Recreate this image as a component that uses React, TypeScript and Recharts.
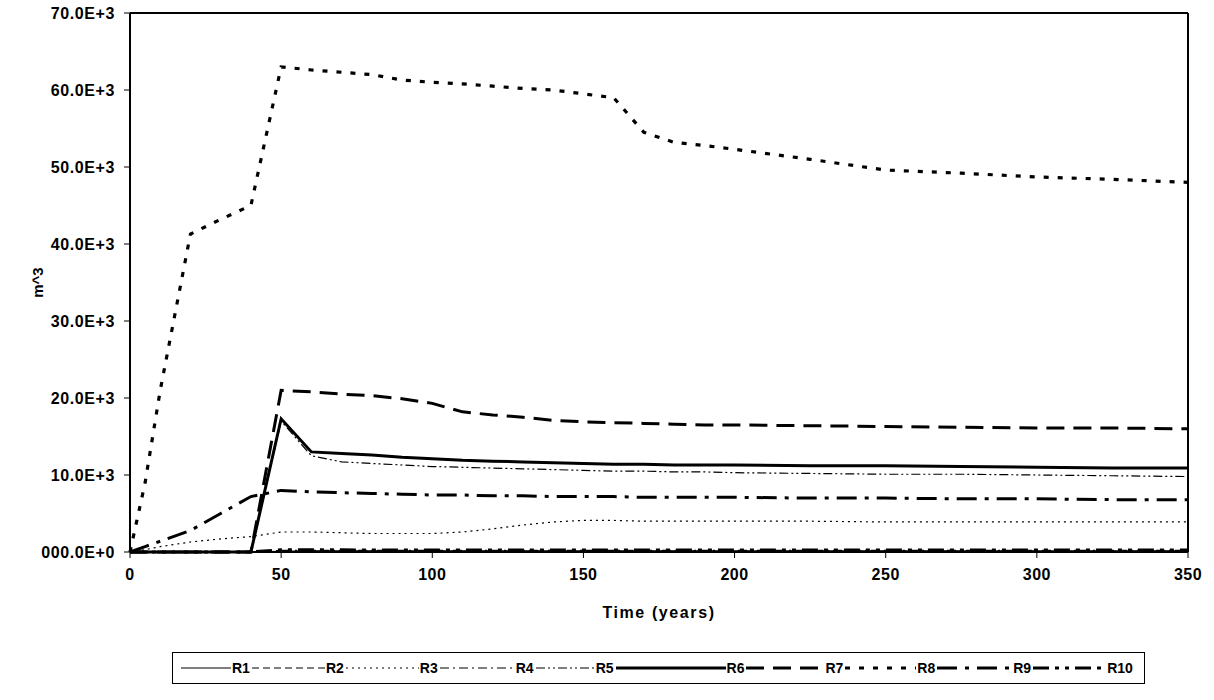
import React from "react";
import { LineChart, Line, XAxis, YAxis, ReferenceLine } from "recharts";

// Volumes (m^3) per reach over time
const YEARS = [0, 5, 10, 20, 30, 40, 50, 60, 70, 80, 90, 100, 110, 120, 130, 140, 150, 160, 170, 180, 190, 200, 225, 250, 275, 300, 325, 350];

const R1 = [0, 0, 0, 0, 0, 0, 100, 150, 150, 150, 150, 150, 150, 150, 150, 150, 150, 150, 150, 150, 150, 150, 150, 150, 150, 150, 150, 150];
const R2 = [0, 0, 0, 0, 0, 0, 50, 80, 80, 80, 80, 80, 80, 80, 80, 80, 80, 80, 80, 80, 80, 80, 80, 80, 80, 80, 80, 80];
const R3 = [0, 300, 700, 1300, 1700, 2000, 2600, 2600, 2500, 2400, 2400, 2400, 2600, 3000, 3500, 3900, 4100, 4100, 4000, 4000, 4000, 4000, 4000, 3900, 3900, 3900, 3900, 3900];
const R4 = [0, 0, 0, 0, 0, 0, 200, 200, 200, 200, 200, 200, 200, 200, 200, 200, 200, 200, 200, 200, 200, 200, 200, 200, 200, 200, 200, 200];
const R5 = [0, 0, 0, 0, 0, 0, 17000, 12500, 11700, 11500, 11300, 11100, 11000, 10900, 10800, 10700, 10600, 10500, 10500, 10400, 10400, 10300, 10200, 10100, 10100, 10000, 9900, 9800];
const R6 = [0, 0, 0, 0, 0, 0, 17300, 13000, 12800, 12600, 12300, 12100, 11900, 11800, 11700, 11600, 11500, 11400, 11400, 11300, 11300, 11300, 11200, 11200, 11100, 11000, 10900, 10900];
const R7 = [0, 0, 0, 0, 0, 0, 21000, 20800, 20500, 20300, 19900, 19300, 18200, 17800, 17500, 17100, 16900, 16800, 16700, 16600, 16500, 16500, 16400, 16300, 16200, 16100, 16100, 16000];
const R8 = [0, 9000, 21000, 41300, 43200, 45000, 63000, 62600, 62300, 62000, 61300, 61000, 60800, 60500, 60200, 60000, 59500, 59000, 54500, 53200, 52800, 52300, 51000, 49600, 49200, 48700, 48400, 48000];
const R9 = [0, 700, 1400, 2800, 5000, 7200, 8000, 7800, 7700, 7600, 7500, 7400, 7400, 7300, 7300, 7200, 7200, 7200, 7100, 7100, 7100, 7100, 7000, 7000, 6900, 6900, 6800, 6800];
const R10 = [0, 0, 0, 0, 0, 0, 300, 280, 280, 270, 270, 260, 260, 260, 250, 250, 250, 250, 250, 250, 250, 250, 250, 250, 250, 250, 250, 250];

const X_TICKS = [0, 50, 100, 150, 200, 250, 300, 350];
const Y_TICKS = [0, 10000, 20000, 30000, 40000, 50000, 60000, 70000];

const SERIES = [
  { key: "R1", values: R1, width: 1.2, dash: undefined, sample: 50 },
  { key: "R2", values: R2, width: 1.2, dash: "7 4", sample: 73 },
  { key: "R3", values: R3, width: 1.2, dash: "2 4", sample: 73 },
  { key: "R4", values: R4, width: 1.2, dash: "9 4 2 4", sample: 75 },
  { key: "R5", values: R5, width: 1.2, dash: "9 3 2 3 2 3", sample: 59 },
  { key: "R6", values: R6, width: 3, dash: undefined, sample: 110 },
  { key: "R7", values: R7, width: 3, dash: "18 9", sample: 78 },
  { key: "R8", values: R8, width: 3.2, dash: "5 9", sample: 71 },
  { key: "R9", values: R9, width: 3, dash: "20 8 4 8", sample: 75 },
  { key: "R10", values: R10, width: 3, dash: "16 6 4 6 4 6", sample: 73 },
];

const data = YEARS.map((t, i) => {
  const row: Record<string, number> = { t };
  SERIES.forEach((s) => { row[s.key] = s.values[i]; });
  return row;
});

const FONT = "'Liberation Sans', Arial, sans-serif";

const fmtY = (v: number) => (v === 0 ? "000.0E+0" : `${(v / 1000).toFixed(1)}E+3`);

export default function App() {
  return (
    <div style={{ position: "absolute", left: 0, top: 0, width: 1214, height: 700, background: "#fff", fontFamily: FONT }}>
      <LineChart width={1214} height={700} data={data} margin={{ top: 13, right: 26, left: 30, bottom: 78 }}>
        <XAxis
          dataKey="t"
          type="number"
          domain={[0, 350]}
          ticks={X_TICKS}
          height={70}
          axisLine={{ stroke: "#000", strokeWidth: 2 }}
          tickLine={{ stroke: "#000" }}
          tickSize={6}
          tickMargin={11}
          tick={{ fill: "#000", fontSize: 16, fontWeight: "bold", fontFamily: FONT, letterSpacing: 0.5 }}
          label={({ viewBox }: any) => (
            <text x={viewBox.x + viewBox.width / 2} y={viewBox.y + 66} textAnchor="middle"
              fontSize={16} fontWeight="bold" fontFamily={FONT} fill="#000" letterSpacing={1.6}>
              Time (years)
            </text>
          )}
        />
        <YAxis
          type="number"
          domain={[0, 70000]}
          ticks={Y_TICKS}
          width={100}
          axisLine={{ stroke: "#000", strokeWidth: 2 }}
          tickLine={{ stroke: "#000" }}
          tickSize={6}
          tickMargin={9}
          tickFormatter={fmtY}
          tick={{ fill: "#000", fontSize: 16, fontWeight: "bold", fontFamily: FONT, letterSpacing: 0.6 }}
          label={({ viewBox }: any) => {
            const x = viewBox.x + 13;
            const y = viewBox.y + viewBox.height / 2;
            return (
              <text x={x} y={y} transform={`rotate(-90, ${x}, ${y})`} textAnchor="middle"
                fontSize={15} fontWeight="bold" fontFamily={FONT} fill="#000">
                m^3
              </text>
            );
          }}
        />
        <ReferenceLine y={70000} stroke="#000" strokeWidth={2} ifOverflow="visible" />
        <ReferenceLine x={350} stroke="#000" strokeWidth={2} ifOverflow="visible" />
        {SERIES.map((s) => (
          <Line
            key={s.key}
            type="linear"
            dataKey={s.key}
            stroke="#000"
            strokeWidth={s.width}
            strokeDasharray={s.dash}
            dot={false}
            activeDot={false}
            isAnimationActive={false}
          />
        ))}
      </LineChart>

      {/* legend box under the plot */}
      <div
        style={{
          position: "absolute", left: 172, top: 652, width: 973, height: 32,
          border: "1.5px solid #000", boxSizing: "border-box",
          display: "flex", alignItems: "center", paddingLeft: 8,
          fontSize: 14, fontWeight: "bold", color: "#000",
        }}
      >
        {SERIES.map((s) => (
          <div key={s.key} style={{ display: "flex", alignItems: "center", marginRight: 2 }}>
            <svg width={s.sample} height={10}>
              <line x1={0} y1={5} x2={s.sample} y2={5} stroke="#000" strokeWidth={s.width} strokeDasharray={s.dash} />
            </svg>
            <span style={{ marginLeft: 1 }}>{s.key}</span>
          </div>
        ))}
      </div>
    </div>
  );
}
